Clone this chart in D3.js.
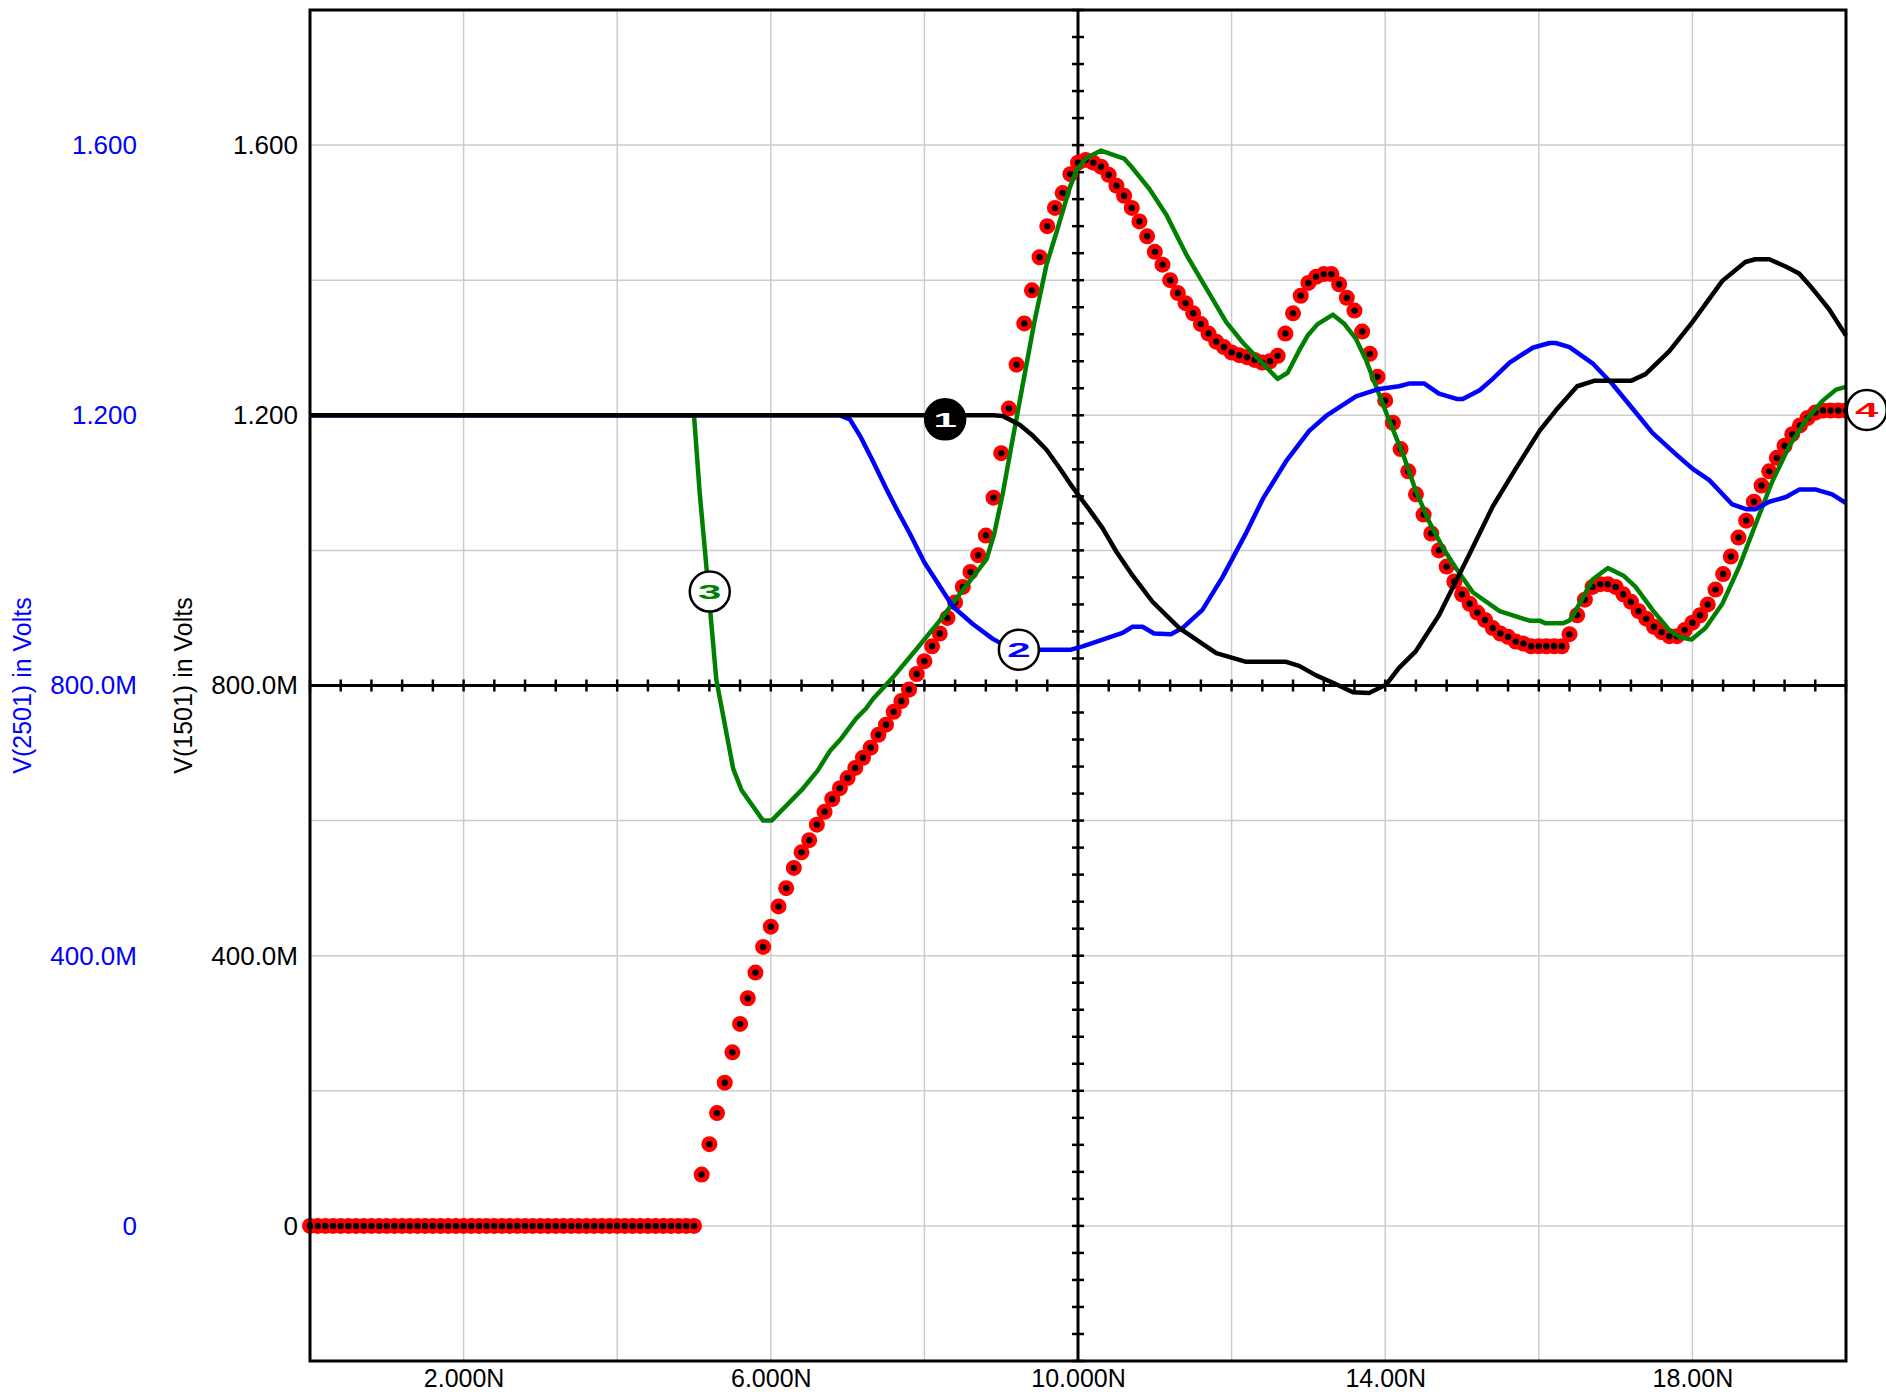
<!DOCTYPE html>
<html>
<head>
<meta charset="utf-8">
<script src="https://cdn.jsdelivr.net/npm/d3@7"></script>
<style>
  body { margin: 0; background: #fff; }
  text { font-family: "Liberation Sans", Arial, sans-serif; }
</style>
</head>
<body>
<div id="chart"></div>
<script>
(function() {

  var width = 1886,
      height = 1394;

  // time axis (ns) and the two voltage axes
  var xTickValues = [2, 6, 10, 14, 18];
  var xTickLabels = ["2.000N", "6.000N", "10.000N", "14.00N", "18.00N"];
  var yTickValues = [0, 0.4, 0.8, 1.2, 1.6];
  var yTickLabels = ["0", "400.0M", "800.0M", "1.200", "1.600"];

  // trace 1 : black
  var trace1 = [[0,1.2],[8.8,1.2],[8.9,1.2],[9.02,1.199],[9.24,1.186],[9.41,1.170],[9.59,1.149],[9.76,1.122],
    [9.89,1.10],[10.01,1.081],[10.15,1.06],[10.32,1.033],[10.5,0.998],[10.71,0.963],[10.97,0.924],[11.32,0.885],
    [11.8,0.848],[12.19,0.835],[12.71,0.835],[12.88,0.829],[13.1,0.815],[13.32,0.804],[13.58,0.79],[13.79,0.789],
    [14.01,0.801],[14.18,0.826],[14.4,0.851],[14.7,0.904],[15.09,0.993],[15.4,1.065],[15.7,1.121],[16.01,1.177],
    [16.22,1.207],[16.5,1.243],[16.72,1.251],[17.2,1.251],[17.39,1.261],[17.7,1.295],[18.0,1.338],[18.39,1.399],
    [18.69,1.427],[18.82,1.431],[19.0,1.431],[19.22,1.420],[19.39,1.410],[19.56,1.388],[19.78,1.357],[20,1.318]];

  // trace 2 : blue
  var trace2 = [[0,1.2],[6.9,1.2],[7.03,1.194],[7.16,1.170],[7.33,1.132],[7.5,1.092],[7.63,1.063],[7.81,1.025],
    [8.0,0.982],[8.2,0.947],[8.37,0.917],[8.63,0.891],[8.89,0.869],[9.07,0.858],[9.3,0.853],[9.91,0.853],
    [10.06,0.858],[10.58,0.878],[10.71,0.887],[10.84,0.887],[10.99,0.877],[11.21,0.876],[11.36,0.885],[11.62,0.912],
    [11.88,0.96],[12.19,1.026],[12.41,1.077],[12.71,1.132],[13.01,1.177],[13.23,1.199],[13.62,1.228],[13.92,1.239],
    [14.18,1.243],[14.31,1.247],[14.51,1.247],[14.7,1.232],[14.94,1.224],[15.01,1.224],[15.23,1.237],[15.4,1.254],
    [15.62,1.278],[15.92,1.3],[16.14,1.307],[16.22,1.307],[16.4,1.301],[16.7,1.277],[16.96,1.246],[17.22,1.21],
    [17.48,1.174],[17.78,1.143],[18.0,1.121],[18.22,1.104],[18.52,1.068],[18.7,1.061],[18.82,1.061],[19.0,1.072],
    [19.22,1.079],[19.39,1.09],[19.61,1.09],[19.82,1.083],[20,1.07]];

  // trace 3 : green
  var trace3 = [[0,1.2],[5.0,1.2],[5.075,1.084],[5.14,1.003],[5.29,0.809],[5.51,0.677],[5.62,0.645],[5.9,0.6],
    [6.01,0.6],[6.4,0.645],[6.61,0.674],[6.77,0.703],[6.92,0.722],[7.11,0.751],[7.24,0.766],[7.33,0.78],
    [7.59,0.812],[7.89,0.853],[8.2,0.896],[8.41,0.928],[8.63,0.96],[8.81,0.987],[8.91,1.025],[9.02,1.084],
    [9.15,1.165],[9.28,1.245],[9.43,1.337],[9.59,1.423],[9.72,1.471],[9.89,1.536],[9.98,1.563],[10.11,1.581],
    [10.3,1.592],[10.6,1.58],[10.71,1.566],[10.93,1.535],[11.15,1.497],[11.41,1.438],[11.67,1.388],[11.93,1.338],
    [12.15,1.307],[12.36,1.282],[12.6,1.254],[12.73,1.263],[12.88,1.296],[12.99,1.318],[13.12,1.335],[13.32,1.349],
    [13.47,1.335],[13.62,1.313],[13.75,1.282],[13.88,1.243],[14.05,1.193],[14.23,1.143],[14.4,1.088],[14.57,1.043],
    [14.75,1.004],[14.92,0.974],[15.14,0.938],[15.49,0.91],[15.88,0.896],[16.01,0.896],[16.09,0.892],[16.31,0.892],
    [16.4,0.896],[16.53,0.921],[16.7,0.957],[16.9,0.974],[17.11,0.962],[17.26,0.946],[17.48,0.912],[17.7,0.882],
    [17.85,0.871],[17.99,0.868],[18.17,0.885],[18.39,0.921],[18.61,0.976],[18.82,1.038],[19.04,1.102],[19.26,1.154],
    [19.48,1.193],[19.69,1.221],[19.87,1.238],[20,1.242]];

  // trace 4 : red markers, one sample every 0.1 ns from 0 to 20 ns
  var trace4Step = 0.1;
  var trace4 = [
    0,0,0,0,0,0,0,0,0,0, 0,0,0,0,0,0,0,0,0,0, 0,0,0,0,0,0,0,0,0,0, 0,0,0,0,0,0,0,0,0,0, 0,0,0,0,0,0,0,0,0,0, 0,
    0.076,0.121,0.167,0.212,0.257,0.299,0.337,0.375,0.413,0.443,
    0.473,0.500,0.530,0.553,0.571,0.594,0.613,0.632,0.648,0.663,
    0.678,0.693,0.708,0.727,0.742,0.761,0.777,0.794,0.817,0.836,
    0.858,0.877,0.900,0.923,0.946,0.968,0.993,1.022,1.078,1.144,
    1.210,1.275,1.336,1.385,1.434,1.480,1.507,1.529,1.557,1.574,
    1.578,1.574,1.568,1.556,1.540,1.525,1.507,1.487,1.465,1.442,
    1.423,1.400,1.381,1.366,1.351,1.335,1.321,1.309,1.301,1.293,
    1.289,1.286,1.282,1.278,1.280,1.288,1.321,1.351,1.377,1.396,
    1.405,1.409,1.409,1.394,1.374,1.355,1.324,1.291,1.257,1.222,
    1.189,1.150,1.117,1.083,1.053,1.025,1.000,0.976,0.954,0.935,
    0.921,0.908,0.897,0.885,0.877,0.872,0.865,0.862,0.858,0.858,
    0.858,0.858,0.858,0.876,0.904,0.927,0.946,0.950,0.950,0.946,
    0.935,0.924,0.910,0.899,0.887,0.879,0.873,0.873,0.882,0.893,
    0.904,0.920,0.942,0.965,0.991,1.019,1.044,1.072,1.096,1.117,
    1.137,1.155,1.172,1.185,1.196,1.204,1.207,1.207,1.207,1.207];

  // numbered trace markers (time, volts)
  var callouts = [
    { n: "1", t: 8.27, v: 1.194, color: "#fff", fill: "#000" },
    { n: "2", t: 9.23, v: 0.853, color: "#0000ff", fill: "#fff" },
    { n: "3", t: 5.205, v: 0.939, color: "#008000", fill: "#fff" },
    { n: "4", t: 20.27, v: 1.208, color: "#ff0000", fill: "#fff" }
  ];

  var left = 310, right = 1846, top = 10, bottom = 1361;

  var svg = d3.select("#chart")
    .append("svg")
    .attr("width", width)
    .attr("height", height)
    .style("display", "block");

  svg.append("rect").attr("width", width).attr("height", height).attr("fill", "#fff");

  var x = d3.scaleLinear().domain([0, 20]).range([left, right]);
  var y = d3.scaleLinear().domain([-0.2, 1.8]).range([bottom, top]);

  // grid
  var grid = svg.append("g").attr("stroke", "#cccccc").attr("stroke-width", 1.5);
  grid.selectAll(".vg")
    .data(x.ticks(10).filter(function(d) { return d > 0 && d < 20; }))
    .enter().append("line")
    .attr("x1", function(d) { return x(d); })
    .attr("x2", function(d) { return x(d); })
    .attr("y1", top).attr("y2", bottom);
  grid.selectAll(".hg")
    .data(y.ticks(10).filter(function(d) { return d > -0.2 && d < 1.8; }))
    .enter().append("line")
    .attr("y1", function(d) { return y(d); })
    .attr("y2", function(d) { return y(d); })
    .attr("x1", left).attr("x2", right);

  // crosshair axes through (10N, 800M) with little ticks
  var cross = svg.append("g").attr("stroke", "#000");
  cross.append("line")
    .attr("x1", left).attr("x2", right)
    .attr("y1", y(0.8)).attr("y2", y(0.8))
    .attr("stroke-width", 3);
  cross.append("line")
    .attr("x1", x(10)).attr("x2", x(10))
    .attr("y1", top).attr("y2", bottom)
    .attr("stroke-width", 3);
  cross.selectAll(".xt")
    .data(d3.range(0, 20.001, 0.4))
    .enter().append("line")
    .attr("x1", function(d) { return x(d); })
    .attr("x2", function(d) { return x(d); })
    .attr("y1", y(0.8) - 6).attr("y2", y(0.8) + 6)
    .attr("stroke-width", 2.5);
  cross.selectAll(".yt")
    .data(d3.range(-0.2, 1.8001, 0.04))
    .enter().append("line")
    .attr("y1", function(d) { return y(d); })
    .attr("y2", function(d) { return y(d); })
    .attr("x1", x(10) - 6).attr("x2", x(10) + 6)
    .attr("stroke-width", 2.5);

  // traces
  var line = d3.line()
    .x(function(d) { return x(d[0]); })
    .y(function(d) { return y(d[1]); });

  var dots = svg.append("g");
  dots.selectAll(".m4")
    .data(trace4)
    .enter().append("circle")
    .attr("cx", function(d, i) { return x(i * trace4Step); })
    .attr("cy", function(d) { return y(d); })
    .attr("r", 8)
    .attr("fill", "#ff0000");
  dots.selectAll(".c4")
    .data(trace4)
    .enter().append("circle")
    .attr("cx", function(d, i) { return x(i * trace4Step); })
    .attr("cy", function(d) { return y(d); })
    .attr("r", 3.2)
    .attr("fill", "#000");

  [[trace3, "#008000"], [trace2, "#0000ff"], [trace1, "#000000"]].forEach(function(s) {
    svg.append("path")
      .datum(s[0])
      .attr("d", line)
      .attr("fill", "none")
      .attr("stroke", s[1])
      .attr("stroke-width", 4.5)
      .attr("stroke-linejoin", "round");
  });

  // frame
  svg.append("rect")
    .attr("x", left).attr("y", top)
    .attr("width", right - left).attr("height", bottom - top)
    .attr("fill", "none").attr("stroke", "#000").attr("stroke-width", 3);

  // x labels
  var xAxis = d3.axisBottom(x)
    .tickValues(xTickValues)
    .tickSize(0)
    .tickPadding(0)
    .tickFormat(function(d, i) { return xTickLabels[i]; });
  var gx = svg.append("g").attr("transform", "translate(0," + bottom + ")").call(xAxis);
  gx.select(".domain").remove();
  gx.selectAll("text")
    .attr("dy", null)
    .attr("y", 26)
    .attr("fill", "#000")
    .style("font-size", "25px")
    .style("font-family", "'Liberation Sans', Arial, sans-serif");

  // the two y label columns (same scale)
  [[298, "#000"], [137, "#0000ff"]].forEach(function(c) {
    var yAxis = d3.axisLeft(y)
      .tickValues(yTickValues)
      .tickSize(0)
      .tickPadding(0)
      .tickFormat(function(d, i) { return yTickLabels[i]; });
    var gy = svg.append("g").attr("transform", "translate(" + c[0] + ",0)").call(yAxis);
    gy.select(".domain").remove();
    gy.selectAll("text")
      .attr("fill", c[1])
      .style("font-size", "26px")
      .style("font-family", "'Liberation Sans', Arial, sans-serif");
  });

  // axis titles
  var midY = (top + bottom) / 2;
  svg.append("text")
    .attr("transform", "translate(192," + midY + ") rotate(-90)")
    .attr("text-anchor", "middle")
    .attr("fill", "#000")
    .style("font-size", "25px")
    .text("V(1501) in Volts");
  svg.append("text")
    .attr("transform", "translate(31," + midY + ") rotate(-90)")
    .attr("text-anchor", "middle")
    .attr("fill", "#0000ff")
    .style("font-size", "25px")
    .text("V(2501) in Volts");

  // numbered trace markers
  var call = svg.selectAll(".callout")
    .data(callouts)
    .enter().append("g")
    .attr("class", "callout")
    .attr("transform", function(d) { return "translate(" + x(d.t) + "," + y(d.v) + ")"; });
  call.append("circle")
    .attr("r", 20)
    .attr("fill", function(d) { return d.fill; })
    .attr("stroke", "#000")
    .attr("stroke-width", 2.5);
  call.append("text")
    .attr("transform", "scale(2.1,1)")
    .attr("text-anchor", "middle")
    .attr("dy", "0.36em")
    .attr("fill", function(d) { return d.color; })
    .style("font-size", "20px")
    .style("font-weight", "bold")
    .text(function(d) { return d.n; });

})();
</script>
</body>
</html>
